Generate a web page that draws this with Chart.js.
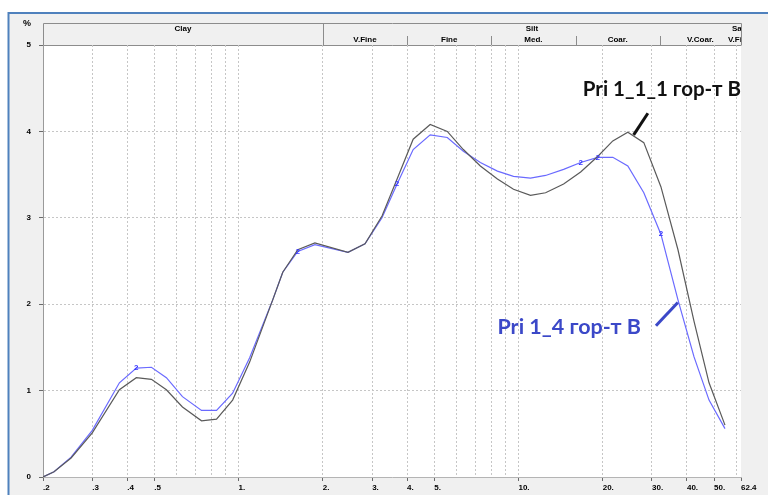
<!DOCTYPE html>
<html>
<head>
<meta charset="utf-8">
<script src="https://cdn.jsdelivr.net/npm/chart.js@4.4.1/dist/chart.umd.min.js"></script>
<style>
  html, body { margin: 0; padding: 0; background: #fff; }
  canvas { display: block; }
</style>
</head>
<body>
<canvas id="psd" width="768" height="495"></canvas>
<script>
// Particle size classes, µm
const sizesUm = [0.2, 0.219, 0.252, 0.300, 0.375, 0.431, 0.488, 0.552, 0.630, 0.737,
  0.834, 0.952, 1.095, 1.324, 1.438, 1.627, 1.873, 2.459, 2.829, 3.254,
  3.684, 4.205, 4.837, 5.567, 6.354, 7.307, 8.41, 9.60, 11.04, 12.50,
  14.50, 16.68, 19.19, 21.73, 24.59, 28.05, 32.28, 37.15, 42.4, 47.97, 54.7];

// Volume share per class, %
const pri111 = [0, 0.06, 0.22, 0.51, 1.01, 1.15, 1.13, 1.01, 0.81, 0.65,
  0.67, 0.89, 1.33, 2.05, 2.37, 2.63, 2.71, 2.60, 2.70, 3.02,
  3.45, 3.91, 4.08, 4.00, 3.79, 3.60, 3.45, 3.33, 3.26, 3.29,
  3.39, 3.53, 3.71, 3.89, 3.99, 3.87, 3.36, 2.63, 1.80, 1.09, 0.60];

const pri14 = [0, 0.06, 0.23, 0.54, 1.09, 1.26, 1.27, 1.15, 0.93, 0.77,
  0.77, 0.97, 1.38, 2.05, 2.37, 2.61, 2.69, 2.60, 2.70, 3.00,
  3.39, 3.79, 3.96, 3.93, 3.77, 3.64, 3.54, 3.48, 3.46, 3.49,
  3.56, 3.64, 3.70, 3.70, 3.60, 3.29, 2.81, 2.05, 1.39, 0.89, 0.56];

// classes of the second curve tagged with its number
const markIdx14 = [5, 15, 20, 31, 32, 36];

// x axis: grid positions and labelled ticks
const xGrid = [0.2, 0.3, 0.4, 0.5, 0.6, 0.7, 0.8, 0.9, 1, 2, 3, 4, 5, 6, 7, 8, 9,
  10, 20, 30, 40, 50, 60, 62.4];
const xLabelVals = [0.2, 0.3, 0.4, 0.5, 1, 2, 3, 4, 5, 10, 20, 30, 40, 50, 62.4];
const xLabelText = ['.2', '.3', '.4', '.5', '1.', '2.', '3.', '4.', '5.', '10.', '20.', '30.', '40.', '50.', '62.4'];
const yTickVals = [0, 1, 2, 3, 4, 5];

// grain-size classes in the header band
const groupNames = ['Clay', 'Silt', 'Sand'];
const groupBounds = [[0.2, 2], [2, 62.4], [62.4, 100]];
const subNames = ['V.Fine', 'Fine', 'Med.', 'Coar.', 'V.Coar.', 'V.Fine'];
const subBounds = [[2, 4], [4, 8], [8, 16], [16, 32], [32, 62.4], [62.4, 78]];

// curve labels with their pointer strokes (µm, %)
const label111 = 'Pri 1_1_1 гор-т В';
const label111At = [62.4, 4.49];
const pointer111 = [[25.8, 3.96], [29.0, 4.21]];
const label14 = 'Pri 1_4 гор-т В';
const label14At = [27.4, 1.73];
const pointer14 = [[37.1, 2.02], [31.0, 1.75]];

const tickFont = { family: '"Liberation Sans", Arial, sans-serif', size: 8, weight: 'bold' };
const labelOf = v => { const i = xLabelVals.indexOf(v); return i >= 0 ? xLabelText[i] : ''; };
const GRID = '#c6c6c6';
const NONE = 'rgba(0,0,0,0)';

const frame = {
  id: 'frame',
  beforeDraw(chart) {
    const { ctx, chartArea: a, scales: { x } } = chart;
    ctx.save();
    ctx.fillStyle = '#fff';
    ctx.fillRect(0, 0, chart.width, chart.height);
    ctx.fillStyle = '#f0f0f0';
    ctx.fillRect(9, 14, chart.width - 9, chart.height - 14);
    ctx.fillStyle = '#fff';
    ctx.fillRect(a.left, a.top, a.right - a.left, a.bottom - a.top);

    // window border
    ctx.strokeStyle = '#4f81bd';
    ctx.lineWidth = 2;
    ctx.beginPath();
    ctx.moveTo(8.5, chart.height);
    ctx.lineTo(8.5, 13);
    ctx.lineTo(chart.width, 13);
    ctx.stroke();

    // header band
    const top = 23;
    ctx.fillStyle = '#f0f0f0';
    ctx.fillRect(a.left, top, a.right - a.left, a.top - top);
    ctx.strokeStyle = '#8c8c8c';
    ctx.lineWidth = 1;
    ctx.beginPath();
    ctx.moveTo(a.left + 0.5, a.top);
    ctx.lineTo(a.left + 0.5, top + 0.5);
    ctx.lineTo(a.right + 0.5, top + 0.5);
    ctx.lineTo(a.right + 0.5, a.top);
    ctx.moveTo(a.left, a.top + 0.5);
    ctx.lineTo(a.right + 0.5, a.top + 0.5);
    const px2 = Math.round(x.getPixelForValue(2)) + 0.5;
    ctx.moveTo(px2, top);
    ctx.lineTo(px2, a.top);
    subBounds.slice(1, 5).forEach(b => {
      const p = Math.round(x.getPixelForValue(b[0])) + 0.5;
      ctx.moveTo(p, top + 13);
      ctx.lineTo(p, a.top);
    });
    ctx.stroke();

    ctx.beginPath();
    ctx.rect(a.left, top, a.right - a.left, a.top - top);
    ctx.clip();
    ctx.fillStyle = '#000';
    ctx.font = 'bold 8px "Liberation Sans", Arial, sans-serif';
    ctx.textBaseline = 'middle';
    groupNames.forEach((n, i) => {
      const [lo, hi] = groupBounds[i];
      const cx = (x.getPixelForValue(lo) + x.getPixelForValue(hi)) / 2;
      ctx.textAlign = i === 2 ? 'left' : 'center';
      ctx.fillText(n, i === 2 ? a.right - 9 : cx, top + 6);
    });
    subNames.forEach((n, i) => {
      const [lo, hi] = subBounds[i];
      const cx = (x.getPixelForValue(lo) + x.getPixelForValue(hi)) / 2;
      ctx.textAlign = i === 5 ? 'left' : 'center';
      ctx.fillText(n, i === 5 ? a.right - 13 : cx, top + 17);
    });
    ctx.restore();

    // unit above the y axis
    ctx.save();
    ctx.fillStyle = '#000';
    ctx.font = 'bold 9px "Liberation Sans", Arial, sans-serif';
    ctx.textAlign = 'center';
    ctx.textBaseline = 'middle';
    ctx.fillText('%', 27, 24);
    ctx.restore();
  }
};

const notes = {
  id: 'notes',
  afterDatasetsDraw(chart) {
    const { ctx, scales: { x, y } } = chart;
    const P = (v, w) => [x.getPixelForValue(v), y.getPixelForValue(w)];
    ctx.save();
    ctx.fillStyle = '#3434ff';
    ctx.font = 'bold 8px "Liberation Sans", Arial, sans-serif';
    ctx.textAlign = 'center';
    ctx.textBaseline = 'middle';
    markIdx14.forEach(i => {
      const [px, py] = P(sizesUm[i], pri14[i]);
      ctx.fillText('2', px, py);
    });

    const stroke = (pts, color) => {
      ctx.strokeStyle = color;
      ctx.lineWidth = 3;
      ctx.lineCap = 'butt';
      ctx.beginPath();
      const a = P(pts[0][0], pts[0][1]);
      const b = P(pts[1][0], pts[1][1]);
      ctx.moveTo(a[0], a[1]);
      ctx.lineTo(b[0], b[1]);
      ctx.stroke();
    };
    stroke(pointer111, '#111');
    stroke(pointer14, '#3b48c8');

    ctx.textAlign = 'right';
    ctx.textBaseline = 'middle';
    ctx.font = 'bold 20.5px Lato, "Liberation Sans", sans-serif';
    ctx.fillStyle = '#111';
    let p = P(label111At[0], label111At[1]);
    ctx.fillText(label111, p[0], p[1]);
    ctx.font = 'bold 21.5px Lato, "Liberation Sans", sans-serif';
    ctx.fillStyle = '#3b48c8';
    p = P(label14At[0], label14At[1]);
    ctx.fillText(label14, p[0], p[1]);
    ctx.restore();
  }
};

const pts = ys => sizesUm.map((s, i) => ({ x: s, y: ys[i] }));

new Chart(document.getElementById('psd'), {
  type: 'scatter',
  data: {
    datasets: [
      { label: label111, data: pts(pri111), showLine: true, borderColor: '#5a5a5a',
        borderWidth: 1.2, pointRadius: 0, tension: 0, fill: false },
      { label: label14, data: pts(pri14), showLine: true, borderColor: '#6a6aff',
        borderWidth: 1.2, pointRadius: 0, tension: 0, fill: false }
    ]
  },
  options: {
    responsive: false,
    animation: false,
    devicePixelRatio: 1,
    layout: { padding: { top: 45, right: 27, left: 0, bottom: 0 } },
    plugins: { legend: { display: false }, tooltip: { enabled: false } },
    scales: {
      x: {
        type: 'logarithmic',
        min: 0.2,
        max: 62.4,
        position: 'bottom',
        afterFit(s) { s.height = 18; },
        afterBuildTicks(s) { s.ticks = xGrid.map(v => ({ value: v })); },
        ticks: {
          autoSkip: false, maxRotation: 0, minRotation: 0, align: 'start', padding: 2,
          color: '#000', font: tickFont,
          callback: v => labelOf(v)
        },
        grid: {
          color: c => (c.tick && (c.tick.value === 0.2 || c.tick.value === 62.4)) ? NONE : GRID,
          lineWidth: 1,
          tickColor: c => (c.tick && labelOf(c.tick.value)) ? '#6a6a6a' : NONE,
          tickLength: 4,
          tickBorderDash: []
        },
        border: { display: true, color: '#b4b4b4', width: 1, dash: [2, 2] }
      },
      y: {
        min: 0,
        max: 5,
        afterFit(s) { s.width = 43; },
        afterBuildTicks(s) { s.ticks = yTickVals.map(v => ({ value: v })); },
        ticks: { padding: 8, color: '#000', font: tickFont, callback: v => String(v) },
        grid: {
          color: c => (c.tick && c.tick.value > 0 && c.tick.value < 5) ? GRID : NONE,
          lineWidth: 1,
          tickColor: '#6a6a6a',
          tickLength: 4,
          tickBorderDash: []
        },
        border: { display: true, color: '#9a9a9a', width: 1, dash: [2, 2] }
      }
    }
  },
  plugins: [frame, notes]
});
</script>
</body>
</html>
